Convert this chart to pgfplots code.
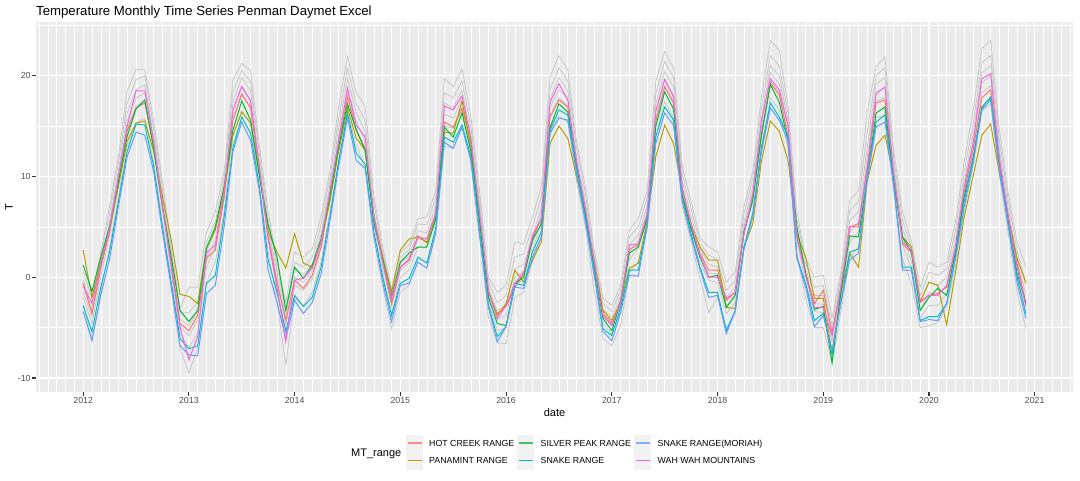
\documentclass[border=0pt]{standalone}
\usepackage{pgfplots}
\pgfplotsset{compat=1.18}
\usepackage{pgfplotstable}
\usepackage{fontspec}
\setmainfont{Liberation Sans}
\definecolor{panelbg}{HTML}{EBEBEB}
\definecolor{keybg}{HTML}{F2F2F2}
\definecolor{tickc}{HTML}{333333}
\definecolor{ticklab}{HTML}{4D4D4D}
\definecolor{greyln}{HTML}{C8C8C8}
\definecolor{cHC}{HTML}{F8766D}
\definecolor{cPA}{HTML}{B79F00}
\definecolor{cSP}{HTML}{00BA38}
\definecolor{cSR}{HTML}{00BFC4}
\definecolor{cSM}{HTML}{619CFF}
\definecolor{cWW}{HTML}{F564E3}
\definecolor{lHC}{HTML}{F78D85}
\definecolor{lSP}{HTML}{38C664}
\definecolor{lSM}{HTML}{80AFFD}

\pgfplotstableread{
t hc pa sp sr sm ww g1 g2 g3 g4 g5 g6
2012.0000 -0.6 2.7 1.2 -2.8 -3.4 -0.9 0.5 -0.3 -0.9 -1.5 -2.0 -2.8
2012.0833 -3.6 -2.0 -1.4 -5.4 -6.3 -2.6 -2.1 -2.6 -3.2 -3.9 -4.6 -6.1
2012.1667 1.0 1.5 2.0 -1.0 -1.8 1.2 2.5 2.0 1.4 0.7 0.0 -1.5
2012.2500 4.5 4.8 5.0 2.5 1.8 4.8 7.0 6.3 5.5 5.0 4.2 3.0
2012.3333 9.5 9.0 9.5 7.5 7.0 10.0 12.0 11.3 10.5 10.0 9.2 8.0
2012.4167 14.5 13.5 14.0 12.5 12.0 15.0 18.5 17.3 16.3 15.5 14.7 13.0
2012.5000 16.8 15.3 16.7 15.2 14.4 18.5 20.6 19.6 18.6 17.8 17.0 15.3
2012.5833 17.3 15.5 17.6 15.1 14.1 18.5 20.6 20.0 19.1 18.3 17.5 15.8
2012.6667 13.0 12.5 12.8 11.0 10.5 13.5 15.5 14.8 14.0 13.5 12.7 11.5
2012.7500 7.0 8.0 7.0 5.0 4.5 7.0 9.5 8.8 8.0 7.5 6.7 5.5
2012.8333 1.5 3.7 2.0 -0.5 -1.0 1.0 3.0 2.5 1.9 1.2 0.5 -1.0
2012.9167 -4.6 -1.7 -3.3 -6.1 -6.8 -5.0 -3.1 -3.6 -4.2 -4.9 -5.6 -7.1
2013.0000 -5.3 -1.9 -4.4 -7.1 -7.7 -8.2 -1.0 -3.5 -4.8 -5.8 -7.0 -9.5
2013.0833 -3.8 -2.6 -3.3 -6.8 -7.8 -5.9 -1.0 -2.5 -3.4 -4.3 -5.5 -7.0
2013.1667 1.9 2.9 2.9 -0.6 -1.6 2.4 4.5 3.5 2.5 1.8 1.0 -0.5
2013.2500 2.7 4.7 5.0 0.2 -0.8 3.2 6.5 5.5 4.6 3.8 3.0 1.5
2013.3333 8.0 8.5 9.0 6.0 5.0 8.5 10.5 9.8 9.0 8.5 7.7 6.5
2013.4167 15.6 14.1 14.6 12.9 12.5 16.6 19.6 18.4 17.4 16.6 15.8 14.1
2013.5000 18.2 16.4 17.5 15.9 15.4 18.9 21.2 20.5 19.8 19.0 18.0 16.5
2013.5833 16.8 15.3 15.6 14.3 13.6 17.5 20.5 19.4 18.5 17.6 17.0 15.3
2013.6667 10.5 10.5 10.0 9.0 8.6 10.9 13.0 12.3 11.5 11.0 10.2 9.0
2013.7500 4.0 4.5 5.2 1.7 0.7 3.8 6.5 5.8 5.0 4.5 3.7 2.5
2013.8333 -0.5 2.5 2.0 -1.5 -2.5 -1.0 1.5 1.0 0.4 -0.3 -1.0 -2.5
2013.9167 -4.3 0.9 -3.3 -5.4 -6.1 -6.4 -2.5 -3.2 -4.0 -4.8 -5.8 -8.7
2014.0000 -0.3 4.3 1.0 -1.8 -2.3 -0.3 2.5 1.5 0.8 0.0 -0.8 -2.0
2014.0833 -1.1 1.4 -0.1 -2.9 -3.6 -0.1 2.0 1.0 0.3 -0.5 -1.3 -2.8
2014.1667 0.2 1.0 1.2 -2.0 -2.5 0.9 2.8 2.0 1.3 0.6 -0.2 -1.5
2014.2500 3.0 3.5 3.8 1.0 0.3 3.5 6.0 5.2 4.3 3.6 2.8 1.5
2014.3333 8.0 7.5 8.0 6.0 5.5 8.5 10.5 9.8 9.0 8.5 7.7 6.5
2014.4167 13.0 12.5 13.0 11.5 11.0 13.5 17.0 15.8 14.8 14.0 13.2 11.5
2014.5000 17.9 16.8 17.2 16.3 15.8 18.7 21.9 20.7 19.7 18.9 18.1 16.4
2014.5833 14.6 13.8 14.6 12.3 11.6 15.1 18.3 17.2 16.3 15.5 14.8 13.1
2014.6667 12.8 12.6 12.6 11.2 10.8 13.9 17.0 15.6 14.5 13.5 12.5 11.0
2014.7500 5.5 6.0 5.5 4.5 4.0 6.0 8.0 7.3 6.5 6.0 5.2 4.0
2014.8333 1.5 2.0 1.8 0.0 -0.5 1.5 3.0 2.5 1.9 1.2 0.5 -1.0
2014.9167 -2.6 -1.5 -2.0 -3.8 -4.4 -2.1 -1.1 -1.6 -2.2 -2.9 -3.6 -5.1
2015.0000 1.0 2.7 1.5 -0.6 -0.8 1.0 2.5 2.0 1.4 0.7 0.0 -1.5
2015.0833 1.7 3.8 2.4 -0.1 -0.6 1.8 3.2 2.7 2.1 1.4 0.7 -0.8
2015.1667 4.1 4.0 3.0 2.0 1.5 4.0 5.8 5.3 4.6 3.8 3.0 1.8
2015.2500 3.4 3.5 3.0 1.4 0.9 3.8 6.0 5.2 4.4 3.8 3.0 1.5
2015.3333 6.0 5.8 5.7 4.8 4.3 6.3 8.5 7.8 7.0 6.5 5.7 4.5
2015.4167 15.4 14.4 14.9 13.9 13.4 17.0 19.7 18.3 17.3 16.2 15.0 13.0
2015.5000 14.9 14.3 13.9 13.4 12.8 16.6 18.9 17.8 16.8 15.8 14.8 12.8
2015.5833 16.8 17.5 16.3 15.1 14.9 18.0 20.7 19.5 18.6 17.6 16.5 15.0
2015.6667 13.3 13.0 12.5 12.0 11.6 13.8 16.0 15.0 14.2 13.6 12.8 11.5
2015.7500 6.0 5.5 5.5 4.5 4.0 6.3 8.5 7.8 7.0 6.5 5.7 4.5
2015.8333 -1.5 -1.5 -2.0 -2.8 -3.0 -1.3 0.0 -0.5 -1.1 -1.8 -2.5 -4.0
2015.9167 -3.6 -3.8 -4.6 -5.9 -6.4 -4.1 -1.5 -2.5 -3.3 -4.2 -5.3 -6.5
2016.0000 -2.9 -2.6 -4.8 -4.9 -4.9 -2.8 -0.8 -1.8 -2.8 -3.8 -5.0 -6.6
2016.0833 -1.0 0.7 -0.6 -0.6 -1.0 -0.6 3.5 2.0 0.8 0.0 -0.8 -2.0
2016.1667 0.3 -0.5 0.0 -0.8 -1.1 0.5 3.3 2.3 1.3 0.6 -0.2 -1.5
2016.2500 3.9 1.7 3.7 2.5 2.0 4.2 6.0 5.0 4.0 3.4 2.6 1.5
2016.3333 5.8 3.5 5.3 4.5 4.0 5.8 9.0 8.0 7.0 6.4 5.6 4.0
2016.4167 15.9 13.3 14.9 14.6 14.3 17.4 19.9 18.7 17.7 16.9 16.1 14.4
2016.5000 17.6 15.0 17.2 16.6 15.8 19.2 22.0 20.8 19.8 18.6 17.8 16.0
2016.5833 16.9 13.8 16.4 16.1 15.6 17.6 20.6 19.5 18.5 17.8 17.0 15.4
2016.6667 11.0 10.0 11.0 10.8 10.3 11.5 13.5 12.8 12.0 11.5 10.7 9.5
2016.7500 6.5 6.0 6.2 5.8 5.5 6.8 9.0 8.3 7.5 7.0 6.2 5.0
2016.8333 1.2 1.7 1.0 0.5 0.2 1.5 2.7 2.2 1.6 0.9 0.2 -1.3
2016.9167 -3.6 -3.3 -4.1 -5.1 -5.4 -3.8 -2.1 -2.6 -3.2 -3.9 -4.6 -6.1
2017.0000 -4.6 -4.3 -5.3 -5.8 -6.3 -4.8 -2.8 -3.4 -4.0 -4.8 -5.6 -6.8
2017.0833 -2.3 -2.5 -2.5 -3.0 -3.5 -2.5 -0.8 -1.3 -1.9 -2.6 -3.3 -4.8
2017.1667 2.8 0.9 2.4 0.7 0.2 3.2 4.7 4.0 3.2 2.5 1.8 0.5
2017.2500 3.2 1.4 3.0 0.7 0.1 3.3 5.8 5.0 4.2 3.6 2.8 1.5
2017.3333 6.0 5.5 5.8 5.2 5.0 6.2 8.5 7.8 7.0 6.5 5.7 4.5
2017.4167 15.5 12.0 15.0 14.0 13.3 16.5 19.5 18.3 17.3 16.5 15.7 14.0
2017.5000 18.9 15.1 18.4 16.9 16.3 19.6 22.4 21.4 20.4 19.7 19.0 17.4
2017.5833 17.3 13.3 16.7 15.6 15.1 17.9 20.8 19.8 18.9 18.1 17.4 15.8
2017.6667 8.5 8.5 8.0 7.8 7.5 8.8 11.0 10.3 9.5 9.0 8.2 7.0
2017.7500 5.0 5.2 4.8 4.3 4.0 5.2 7.5 6.8 6.0 5.5 4.7 3.5
2017.8333 2.4 3.0 2.0 1.0 0.8 2.2 3.9 3.4 2.8 2.1 1.4 -0.1
2017.9167 0.7 1.7 0.0 -1.5 -2.0 0.0 3.0 2.2 1.3 0.4 -0.3 -3.5
2018.0000 0.7 1.7 0.2 -1.5 -1.8 0.0 2.5 1.7 1.0 0.3 -0.5 -2.0
2018.0833 -2.3 -3.0 -3.0 -5.3 -5.6 -2.1 -0.5 -1.3 -2.0 -2.8 -3.6 -5.0
2018.1667 -1.5 -3.1 -1.8 -3.3 -3.3 -1.5 0.5 -0.3 -1.0 -1.8 -2.5 -3.8
2018.2500 4.5 3.0 4.5 3.0 2.8 4.3 7.0 6.3 5.5 5.0 4.2 3.0
2018.3333 8.0 5.3 7.6 6.3 6.0 8.2 10.5 9.8 9.0 8.5 7.7 6.5
2018.4167 14.0 11.6 14.3 13.0 12.5 15.6 18.0 16.8 15.8 15.0 14.2 12.5
2018.5000 19.3 15.5 19.1 17.3 16.8 19.7 23.5 22.0 21.0 20.3 19.5 17.8
2018.5833 18.1 14.5 17.4 15.9 15.6 18.6 22.5 21.0 20.0 19.2 18.3 16.6
2018.6667 14.0 11.6 13.5 14.0 13.5 15.0 17.0 16.2 15.5 15.0 14.2 12.8
2018.7500 4.0 4.3 5.0 2.0 1.9 4.0 6.5 5.8 5.0 4.5 3.7 2.5
2018.8333 0.4 2.0 0.4 -0.6 -1.0 0.2 1.9 1.4 0.8 0.1 -0.6 -2.1
2018.9167 -2.6 -2.1 -3.2 -4.3 -4.9 -3.0 0.0 -1.0 -1.8 -2.6 -3.4 -5.0
2019.0000 -1.3 -2.1 -2.9 -3.6 -3.8 -3.0 0.2 -0.8 -1.8 -2.7 -3.5 -5.0
2019.0833 -5.5 -7.6 -8.5 -7.6 -7.3 -5.8 -4.0 -4.8 -5.6 -6.4 -7.2 -8.5
2019.1667 -1.0 -1.5 -1.5 -2.5 -2.5 -1.0 0.5 0.0 -0.6 -1.3 -2.0 -3.5
2019.2500 5.0 2.4 4.1 2.5 1.7 5.0 7.6 6.6 5.6 4.5 3.5 2.0
2019.3333 5.3 1.0 4.0 2.8 2.4 5.0 8.6 7.5 6.5 5.5 4.5 3.0
2019.4167 10.7 9.6 10.0 10.0 9.8 11.0 16.5 14.5 13.0 12.0 11.0 9.5
2019.5000 17.3 13.1 16.3 15.4 14.9 18.2 20.9 20.0 19.2 18.4 17.5 15.8
2019.5833 17.6 14.1 16.9 16.1 15.4 18.9 21.9 20.8 19.8 18.8 17.8 16.1
2019.6667 10.0 10.0 9.5 9.3 9.0 10.3 12.5 11.8 11.0 10.5 9.7 8.5
2019.7500 3.3 4.0 4.0 1.0 0.7 3.5 6.5 5.6 4.8 4.0 3.2 1.8
2019.8333 2.5 3.0 2.5 1.0 0.7 2.7 3.6 3.0 2.3 1.6 0.9 -0.6
2019.9167 -2.4 -2.4 -3.3 -4.3 -4.4 -2.5 -1.0 -1.8 -2.5 -3.3 -4.0 -5.0
2020.0000 -1.8 -0.5 -2.0 -3.9 -4.2 -1.8 1.5 0.5 -0.5 -1.5 -2.8 -4.8
2020.0833 -1.6 -0.8 -1.1 -3.9 -4.3 -1.8 1.0 0.2 -0.8 -1.8 -2.8 -4.5
2020.1667 -1.0 -4.7 -1.8 -2.6 -2.6 -0.8 1.5 0.8 0.0 -0.8 -1.6 -3.0
2020.2500 2.8 0.4 2.5 2.0 1.8 3.0 5.5 4.6 3.8 3.2 2.4 1.0
2020.3333 8.5 6.0 8.0 7.5 7.0 9.0 11.5 10.5 9.5 8.8 8.0 6.5
2020.4167 12.6 10.0 11.6 11.9 11.3 13.3 16.5 15.2 14.2 13.4 12.6 11.0
2020.5000 17.8 14.1 16.9 16.8 16.6 19.7 22.7 21.3 20.3 19.3 18.3 16.5
2020.5833 18.6 15.2 17.8 17.9 17.6 20.2 23.5 22.0 21.0 20.0 19.0 17.2
2020.6667 11.6 10.3 11.3 11.0 10.6 11.6 14.5 13.5 12.6 12.0 11.2 10.0
2020.7500 5.8 6.0 5.6 5.3 5.0 6.0 8.3 7.6 6.8 6.3 5.5 4.3
2020.8333 1.4 1.9 0.4 0.0 -0.6 1.0 3.5 2.6 1.8 1.0 0.2 -1.5
2020.9167 -2.6 -0.6 -2.6 -3.6 -4.1 -2.9 1.0 -0.5 -1.8 -2.8 -3.8 -5.1
}\data

\begin{document}
\begin{tikzpicture}
\path[use as bounding box] (0pt,0pt) rectangle (1080pt,480pt);
\begin{axis}[
  at={(36pt,88pt)}, anchor=south west,
  width=1037pt, height=370pt, scale only axis,
  xmin=2011.554, xmax=2021.363, ymin=-11.39, ymax=25.33,
  axis background/.style={fill=panelbg},
  axis line style={draw=none},
  xtick={2012,2013,2014,2015,2016,2017,2018,2019,2020,2021},
  xticklabels={2012,2013,2014,2015,2016,2017,2018,2019,2020,2021},
  ytick={-10,0,10,20},
  yticklabels={-10,0,10,20},
  minor ytick={-5,5,15,25},
  minor xtick={2011.5833,2011.6667,2011.75,2011.8333,2011.9167,
    2012.0833,2012.1667,2012.25,2012.3333,2012.4167,2012.5,2012.5833,2012.6667,2012.75,2012.8333,2012.9167,
    2013.0833,2013.1667,2013.25,2013.3333,2013.4167,2013.5,2013.5833,2013.6667,2013.75,2013.8333,2013.9167,
    2014.0833,2014.1667,2014.25,2014.3333,2014.4167,2014.5,2014.5833,2014.6667,2014.75,2014.8333,2014.9167,
    2015.0833,2015.1667,2015.25,2015.3333,2015.4167,2015.5,2015.5833,2015.6667,2015.75,2015.8333,2015.9167,
    2016.0833,2016.1667,2016.25,2016.3333,2016.4167,2016.5,2016.5833,2016.6667,2016.75,2016.8333,2016.9167,
    2017.0833,2017.1667,2017.25,2017.3333,2017.4167,2017.5,2017.5833,2017.6667,2017.75,2017.8333,2017.9167,
    2018.0833,2018.1667,2018.25,2018.3333,2018.4167,2018.5,2018.5833,2018.6667,2018.75,2018.8333,2018.9167,
    2019.0833,2019.1667,2019.25,2019.3333,2019.4167,2019.5,2019.5833,2019.6667,2019.75,2019.8333,2019.9167,
    2020.0833,2020.1667,2020.25,2020.3333,2020.4167,2020.5,2020.5833,2020.6667,2020.75,2020.8333,2020.9167,
    2021.0833,2021.1667,2021.25,2021.3333},
  grid=both,
  major grid style={white, line width=1.07pt},
  minor grid style={white, line width=0.53pt},
  tick align=outside, major tick length=3.7pt, minor tick length=0pt,
  every tick/.style={color=tickc, line width=1.07pt},
  every minor tick/.append style={draw=none},
  xtick pos=bottom, ytick pos=left,
  tick label style={font=\fontsize{8.8}{10}\selectfont, text=ticklab},
  xticklabel style={inner sep=1.5pt},
  yticklabel style={inner sep=1.5pt},
  clip=true,
]
\addplot[greyln, line width=0.8pt] table[x=t, y=g1] {\data};
\addplot[greyln, line width=0.8pt] table[x=t, y=g2] {\data};
\addplot[greyln, line width=0.8pt] table[x=t, y=g3] {\data};
\addplot[greyln, line width=0.8pt] table[x=t, y=g4] {\data};
\addplot[greyln, line width=0.8pt] table[x=t, y=g5] {\data};
\addplot[greyln, line width=0.8pt] table[x=t, y=g6] {\data};
\addplot[cHC, line width=1pt] table[x=t, y=hc] {\data};
\addplot[cPA, line width=1pt] table[x=t, y=pa] {\data};
\addplot[cSP, line width=1pt] table[x=t, y=sp] {\data};
\addplot[cSR, line width=1pt] table[x=t, y=sr] {\data};
\addplot[cSM, line width=1pt] table[x=t, y=sm] {\data};
\addplot[cWW, line width=1pt] table[x=t, y=ww] {\data};
\end{axis}
% titles
\node[anchor=base west, font=\fontsize{13.2}{15}\selectfont, inner sep=0pt] at (36pt,464pt) {Temperature Monthly Time Series Penman Daymet Excel};
\node[anchor=center, rotate=90, font=\fontsize{11}{13}\selectfont, inner sep=0pt] at (9pt,273pt) {T};
\node[anchor=base, font=\fontsize{11}{13}\selectfont, inner sep=0pt] at (554.5pt,64pt) {date};
% legend
\node[anchor=base west, font=\fontsize{11}{13}\selectfont, inner sep=0pt] at (351pt,24pt) {MT\_range};
\fill[keybg] (406pt,10.4pt) rectangle (423.3pt,45pt);
\fill[keybg] (517pt,10.4pt) rectangle (534.3pt,45pt);
\fill[keybg] (634pt,10.4pt) rectangle (651.3pt,45pt);
\fill[lHC] (407.5pt,36.0pt) rectangle (421.8pt,38.0pt);
\fill[cPA] (407.5pt,18.8pt) rectangle (421.8pt,20.0pt);
\fill[lSP] (518.5pt,36.0pt) rectangle (532.8pt,38.0pt);
\fill[cSR] (518.5pt,18.8pt) rectangle (532.8pt,20.0pt);
\fill[lSM] (635.5pt,36.0pt) rectangle (649.8pt,38.0pt);
\fill[cWW] (635.5pt,18.8pt) rectangle (649.8pt,20.0pt);
\begin{scope}[every node/.style={anchor=base west, font=\fontsize{8.8}{10}\selectfont, inner sep=0pt}]
\node at (429pt,33.2pt) {HOT CREEK RANGE};
\node at (429pt,16.2pt) {PANAMINT RANGE};
\node at (540.5pt,33.2pt) {SILVER PEAK RANGE};
\node at (540.5pt,16.2pt) {SNAKE RANGE};
\node at (657.5pt,33.2pt) {SNAKE RANGE(MORIAH)};
\node at (657.5pt,16.2pt) {WAH WAH MOUNTAINS};
\end{scope}
\end{tikzpicture}
\end{document}
